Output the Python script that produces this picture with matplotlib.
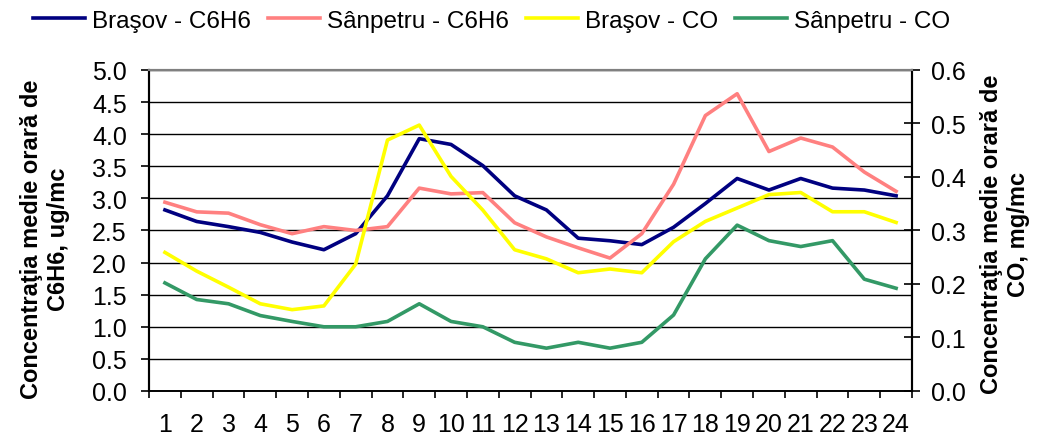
import numpy as np
import matplotlib.pyplot as plt

plt.rcParams['font.family'] = ['Liberation Sans', 'DejaVu Sans']

hours = list(range(1, 25))
brasov_c6h6 = [2.82, 2.64, 2.56, 2.47, 2.32, 2.20, 2.45, 3.04, 3.93, 3.84, 3.51, 3.04,
               2.82, 2.38, 2.34, 2.28, 2.55, 2.92, 3.31, 3.13, 3.31, 3.16, 3.13, 3.04]
sanpetru_c6h6 = [2.94, 2.79, 2.77, 2.59, 2.45, 2.56, 2.50, 2.56, 3.16, 3.07, 3.09, 2.62,
                 2.40, 2.23, 2.07, 2.45, 3.22, 4.29, 4.63, 3.73, 3.94, 3.80, 3.41, 3.11]
brasov_co = [0.259, 0.224, 0.194, 0.163, 0.152, 0.159, 0.237, 0.469, 0.497, 0.401, 0.338, 0.264,
             0.247, 0.221, 0.228, 0.221, 0.279, 0.317, 0.342, 0.367, 0.371, 0.335, 0.335, 0.315]
sanpetru_co = [0.202, 0.171, 0.163, 0.141, 0.130, 0.120, 0.120, 0.130, 0.163, 0.130, 0.120, 0.091,
               0.080, 0.091, 0.080, 0.091, 0.142, 0.247, 0.310, 0.281, 0.270, 0.281, 0.209, 0.192]

fig = plt.figure(figsize=(10.43, 4.39), dpi=100)
ax = fig.add_axes([0.1429, 0.1071, 0.7315, 0.7312])
ax2 = ax.twinx()

lw = 2.6
l1, = ax.plot(hours, brasov_c6h6, color='#000080', lw=lw)
l2, = ax.plot(hours, sanpetru_c6h6, color='#FF8080', lw=lw)
l3, = ax2.plot(hours, brasov_co, color='#FFFF00', lw=lw)
l4, = ax2.plot(hours, sanpetru_co, color='#339966', lw=lw)

ax.set_xlim(0.5, 24.5)
ax.set_ylim(0, 5)
ax2.set_ylim(0, 0.6)

# gridlines every 0.5 on the left scale
ax.set_yticks(np.arange(0, 5.01, 0.5))
ax.set_yticklabels(['%.1f' % v for v in np.arange(0, 5.01, 0.5)])
ax.yaxis.grid(True, color='black', lw=1)
ax.set_axisbelow(True)

ax2.set_yticks(np.arange(0, 0.61, 0.1))
ax2.set_yticklabels(['%.1f' % v for v in np.arange(0, 0.61, 0.1)])

ax.set_xticks(hours)
ax.set_xticklabels([str(h) for h in hours])
ax.set_xticks(np.arange(0.5, 24.6, 1), minor=True)
ax.tick_params(axis='x', which='major', length=0, pad=15, labelsize=18)
ax.tick_params(axis='x', which='minor', length=5, width=1.2, direction='out')
ax.tick_params(axis='y', length=6, width=1.2, direction='out', pad=10, labelsize=18)
ax2.tick_params(axis='y', length=12, width=1.2, direction='inout', pad=8, labelsize=18)

for a in (ax, ax2):
    a.spines['top'].set_color('#808080')
    a.spines['top'].set_linewidth(1.5)
    a.spines['left'].set_linewidth(1.5)
    a.spines['right'].set_linewidth(1.5)
    a.spines['bottom'].set_linewidth(1.2)

ax.set_ylabel('Concentraţia medie orară de\nC6H6, ug/mc', fontsize=17, fontweight='bold')
ax.yaxis.set_label_coords(-0.1035, 0.475)
ax2.set_ylabel('Concentraţia medie orară de\nCO, mg/mc', fontsize=17, fontweight='bold',
               rotation=90)
ax2.yaxis.set_label_coords(1.089, 0.49)

fig.legend([l1, l2, l3, l4],
           ['Braşov - C6H6', 'Sânpetru - C6H6', 'Braşov - CO', 'Sânpetru - CO'],
           loc='upper left', bbox_to_anchor=(0.0316, 0.975), ncol=4, frameon=False,
           fontsize=17.5, handlelength=2.14, handletextpad=0.29, columnspacing=0.7,
           borderpad=0, borderaxespad=0)

fig.savefig('out.png', dpi=100)
